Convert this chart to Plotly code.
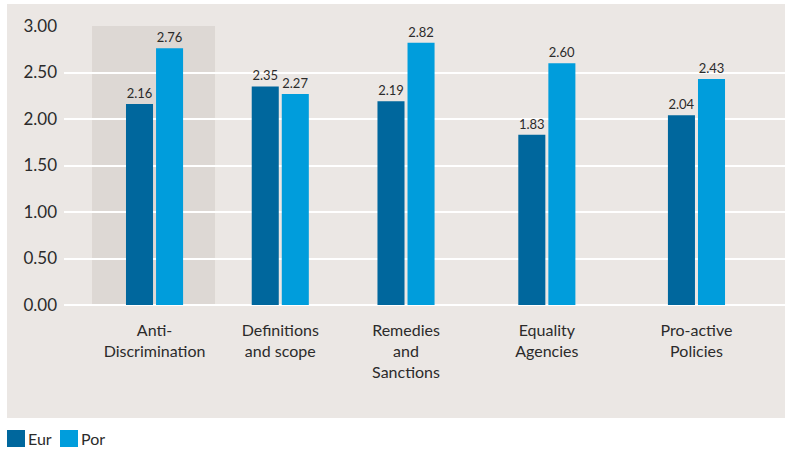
import plotly.graph_objects as go

# Scores per policy area
categories = ["Anti-Discrimination", "Definitions and scope", "Remedies and Sanctions",
              "Equality Agencies", "Pro-active Policies"]
tick_labels = ["Anti-<br>Discrimination", "Definitions<br>and scope", "Remedies<br>and<br>Sanctions",
               "Equality<br>Agencies", "Pro-active<br>Policies"]
eur = [2.16, 2.35, 2.19, 1.83, 2.04]
por = [2.76, 2.27, 2.82, 2.60, 2.43]
y_ticks = [0, 0.5, 1.0, 1.5, 2.0, 2.5, 3.0]
series_names = ["Eur", "Por"]

# Layout: group centres along the x axis (unevenly spaced) and styling
group_pos = [0.0, 1.0, 2.0, 3.12, 4.31]
BAR_W = 0.215
EUR_COLOR = "#00679d"
POR_COLOR = "#009ddc"
PANEL_BG = "#ebe7e4"
BAND_BG = "#ddd8d4"
TEXT = "#2b2b2b"
FONT = "Lato"

W, H = 785, 453
M_L, M_R, M_T, M_B = 64, 0, 26, 148
PLOT_W = W - M_L - M_R
PLOT_H = H - M_T - M_B


def px_x(px):
    """Convert a horizontal pixel position to paper coordinates."""
    return (px - M_L) / PLOT_W


def px_y(py):
    """Convert a vertical pixel position (from top) to paper coordinates."""
    return (H - M_B - py) / PLOT_H


fig = go.Figure()

for values, name, color, offset in [(eur, "Eur", EUR_COLOR, -BAR_W - 0.012),
                                    (por, "Por", POR_COLOR, 0.012)]:
    fig.add_trace(go.Bar(
        x=group_pos, y=values, name=name, width=BAR_W, offset=offset,
        marker=dict(color=color, line=dict(width=0)),
        text=[f"{v:.2f}" for v in values], textposition="outside",
        textfont=dict(size=13, color=TEXT, family=FONT),
        cliponaxis=False, showlegend=False,
    ))

shapes = [
    # panel background behind the chart
    dict(type="rect", xref="paper", yref="paper", x0=px_x(7), x1=1.0, y0=px_y(418), y1=px_y(4),
         fillcolor=PANEL_BG, line=dict(width=0), layer="below"),
    # highlighted first category
    dict(type="rect", xref="x", yref="y", x0=group_pos[0] - 0.497, x1=group_pos[0] + 0.481,
         y0=0, y1=3, fillcolor=BAND_BG, line=dict(width=0), layer="below"),
]

# Legend: square swatches with labels beneath the panel
annotations = []
for name, color, sx in zip(series_names, [EUR_COLOR, POR_COLOR], [7, 60]):
    shapes.append(dict(type="rect", xref="paper", yref="paper",
                       x0=px_x(sx), x1=px_x(sx + 18), y0=px_y(447), y1=px_y(430),
                       fillcolor=color, line=dict(width=0)))
    annotations.append(dict(xref="paper", yref="paper", x=px_x(sx + 19), y=px_y(438.5),
                            xanchor="left", yanchor="middle", text=name, showarrow=False,
                            font=dict(size=16, color=TEXT, family=FONT)))

fig.update_layout(
    width=W, height=H,
    margin=dict(l=M_L, r=M_R, t=M_T, b=M_B),
    paper_bgcolor="white",
    plot_bgcolor="rgba(0,0,0,0)",
    font=dict(family=FONT, color=TEXT),
    barmode="overlay",
    showlegend=False,
    shapes=shapes,
    annotations=annotations,
    xaxis=dict(
        range=[-0.72, 5.014], tickmode="array", tickvals=group_pos, ticktext=tick_labels,
        showgrid=False, zeroline=False, showline=False, ticks="",
        tickfont=dict(size=16, color=TEXT, family=FONT), ticklabelstandoff=14,
    ),
    yaxis=dict(
        range=[0, 3], tickmode="array", tickvals=y_ticks,
        ticktext=[f"{v:.2f}" for v in y_ticks],
        showgrid=True, gridcolor="white", gridwidth=2,
        zeroline=True, zerolinecolor="white", zerolinewidth=2,
        showline=False, ticks="", ticklabelstandoff=6,
        tickfont=dict(size=17, color=TEXT, family=FONT),
    ),
)

fig.write_html("out.html")
